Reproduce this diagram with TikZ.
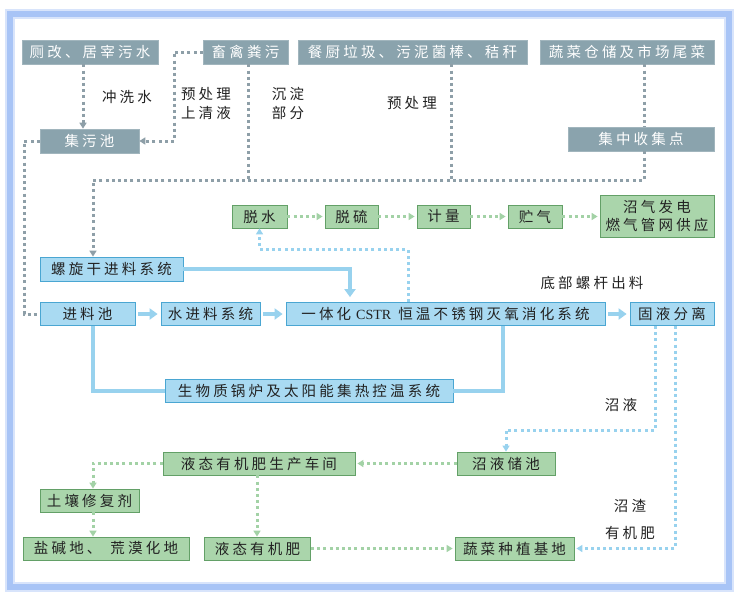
\documentclass[tikz,border=0pt]{standalone}
\usepackage{fontspec}
\usetikzlibrary{arrows.meta}
\newfontfamily\cjk[LetterSpace=22]{Noto Sans CJK SC}
\newfontfamily\latinserif{Liberation Serif}
\definecolor{grayfill}{HTML}{8AA3AD}
\definecolor{grayline}{HTML}{8E9FA8}
\definecolor{bluefill}{HTML}{A9DAF2}
\definecolor{blueedge}{HTML}{4AA6D2}
\definecolor{blueline}{HTML}{98D2EE}
\definecolor{greenfill}{HTML}{AAD5AB}
\definecolor{greenedge}{HTML}{63A067}
\definecolor{greenline}{HTML}{A3D2A6}
\definecolor{framecol}{HTML}{A8C4F6}
\definecolor{txt}{HTML}{222222}
\tikzset{
  base/.style={inner sep=0pt, minimum height=24pt, font=\cjk\fontsize{14.5}{16.5}\selectfont, align=center},
  graybox/.style={base, fill=grayfill, draw=grayfill!80!white, line width=0.6pt, text=white},
  bluebox/.style={base, fill=bluefill, draw=blueedge, line width=0.8pt, text=txt},
  greenbox/.style={base, fill=greenfill, draw=greenedge, line width=0.8pt, text=txt},
  lbl/.style={inner sep=0pt, font=\cjk\fontsize{14.5}{19}\selectfont, text=txt, align=center},
  gdot/.style={draw=grayline, line width=3pt, dash pattern=on 3pt off 3.2pt},
  bdot/.style={draw=blueline, line width=3pt, dash pattern=on 3pt off 3.2pt},
  ndot/.style={draw=greenline, line width=3pt, dash pattern=on 3pt off 3.2pt},
  smalltip/.style={-{Triangle[width=7pt,length=6pt]}},
  bline/.style={draw=blueline, line width=4pt},
  bigtip/.style={-{Triangle[width=11pt,length=8pt]}},
}
\begin{document}
\begin{tikzpicture}[x=1pt,y=-1pt]
\useasboundingbox (0,0) rectangle (738,600);
\fill[white] (0,0) rectangle (738,600);
% frame
\draw[framecol!45!white, line width=10pt] (9.5,13.5) rectangle (728.5,586.5);
\draw[framecol, line width=6pt] (9.5,13.5) rectangle (728.5,586.5);

% gray source boxes
\node[graybox, minimum width=136pt] (g1) at (90,52) {厕改、居宰污水};
\node[graybox, minimum width=85pt] (g2) at (245.5,52) {畜禽粪污};
\node[graybox, minimum width=229pt] (g3) at (412.5,52) {餐厨垃圾、污泥菌棒、秸秆};
\node[graybox, minimum width=174pt] (g4) at (627,52) {蔬菜仓储及市场尾菜};
\node[graybox, minimum width=99pt] (g5) at (89.5,141) {集污池};
\node[graybox, minimum width=146pt] (g6) at (641,139) {集中收集点};

% labels top
\node[lbl] (l1) at (127,97) {冲洗水};
\node[lbl] (l2) at (206,103.5) {预处理\\上清液};
\node[lbl] (l3) at (288,103.5) {沉淀\\部分};
\node[lbl] (l4) at (412,103) {预处理};

% blue boxes
\node[bluebox, minimum width=143pt] (b1) at (111.5,269) {螺旋干进料系统};
\node[bluebox, minimum width=95pt, minimum height=23pt] (b2) at (87.5,314) {进料池};
\node[bluebox, minimum width=99pt, minimum height=23pt] (b3) at (210.5,314) {水进料系统};
\node[bluebox, minimum width=319pt, minimum height=23pt] (b4) at (445.5,314) {一体化\hspace{5pt}{\latinserif\fontsize{14}{15}\selectfont CSTR}\hspace{7pt}恒温不锈钢灭氧消化系统};
\node[bluebox, minimum width=84pt, minimum height=23pt] (b5) at (672,314) {固液分离};
\node[bluebox, minimum width=288pt, minimum height=23pt] (b6) at (309,391) {生物质锅炉及太阳能集热控温系统};

% green gas chain
\node[greenbox, minimum width=55pt, minimum height=23pt] (n1) at (259.5,216.5) {脱水};
\node[greenbox, minimum width=53pt, minimum height=23pt] (n2) at (351.5,216.5) {脱硫};
\node[greenbox, minimum width=53pt, minimum height=23pt] (n3) at (443.5,216.5) {计量};
\node[greenbox, minimum width=54pt, minimum height=23pt] (n4) at (535,216.5) {贮气};
\node[greenbox, minimum width=114pt, minimum height=42pt, font=\cjk\fontsize{14.5}{17.5}\selectfont] (n5) at (657,216) {沼气发电\\燃气管网供应};

% green lower boxes
\node[greenbox, minimum width=192pt, minimum height=23pt] (n6) at (259,463.5) {液态有机肥生产车间};
\node[greenbox, minimum width=98pt, minimum height=23pt] (n7) at (506,463.5) {沼液储池};
\node[greenbox, minimum width=99pt, minimum height=23pt] (n8) at (89.5,500.5) {土壤修复剂};
\node[greenbox, minimum width=166pt, minimum height=23pt] (n9) at (106,548.5) {盐碱地、\hspace{9pt}荒漠化地};
\node[greenbox, minimum width=106pt, minimum height=23pt] (n10) at (257.5,548.5) {液态有机肥};
\node[greenbox, minimum width=119pt, minimum height=23pt] (n11) at (514.5,548.5) {蔬菜种植基地};

% labels lower
\node[lbl] (l5) at (592,283) {底部螺杆出料};
\node[lbl] (l6) at (621,405) {沼液};
\node[lbl] (l7) at (630,506) {沼渣};
\node[lbl] (l8) at (630,533) {有机肥};

% gray dotted connectors
\coordinate (j1) at (93,180);
\coordinate (j2) at (644,180);
\draw[gdot, smalltip] (g1.south -| 83,0) -- (g5.north -| 83,0);
\draw[gdot, smalltip] (g2.west) -| (174,141) -- (g5.east);
\draw[gdot] (g2.south -| 248,0) -- (248,180);
\draw[gdot] (g3.south -| 451,0) -- (451,180);
\draw[gdot] (g4.south -| 644,0) -- (g6.north -| 644,0);
\draw[gdot, smalltip] (g6.south -| 644,0) -- (j2) -- (j1) -- (b1.north -| 93,0);
\draw[gdot] (g5.west) -- (24,141) -- (24,314) -- (b2.west);

% blue solid connectors
\draw[bline, bigtip, shorten >=5pt] (b1.east) -| (b4.north -| 350,0);
\draw[bline, bigtip, shorten <=3pt, shorten >=3pt] (b2) -- (b3);
\draw[bline, bigtip, shorten <=3pt, shorten >=3pt] (b3) -- (b4);
\draw[bline, bigtip, shorten <=3pt, shorten >=3pt] (b4) -- (b5);
\draw[bline] (b2.south -| 93,0) |- (b6.west);
\draw[bline] (b6.east) -| (b4.south -| 503,0);

% blue dotted connectors
\draw[bdot, smalltip] (b4.north -| 408,0) |- (n1.south |- 0,249) -- (n1.south);
\draw[bdot, smalltip] (b5.south -| 655,0) |- (n7.north |- 0,430) -- (n7.north);
\draw[bdot, smalltip, shorten >=2pt] (b5.south -| 675,0) |- (n11.east);

% green dotted connectors
\draw[ndot, smalltip, shorten >=2pt] (n1) -- (n2);
\draw[ndot, smalltip, shorten >=2pt] (n2) -- (n3);
\draw[ndot, smalltip, shorten >=2pt] (n3) -- (n4);
\draw[ndot, smalltip, shorten >=2pt] (n4.east) -- (n5.west |- n4.east);
\draw[ndot, smalltip, shorten >=2pt] (n7) -- (n6);
\draw[ndot, smalltip] (n6.west) -| (n8.north -| 93,0);
\draw[ndot, smalltip] (n8.south -| 93,0) -- (n9.north -| 93,0);
\draw[ndot, smalltip] (n6.south -| 257,0) -- (n10.north -| 257,0);
\draw[ndot, smalltip, shorten >=2pt] (n10) -- (n11);
\end{tikzpicture}
\end{document}
